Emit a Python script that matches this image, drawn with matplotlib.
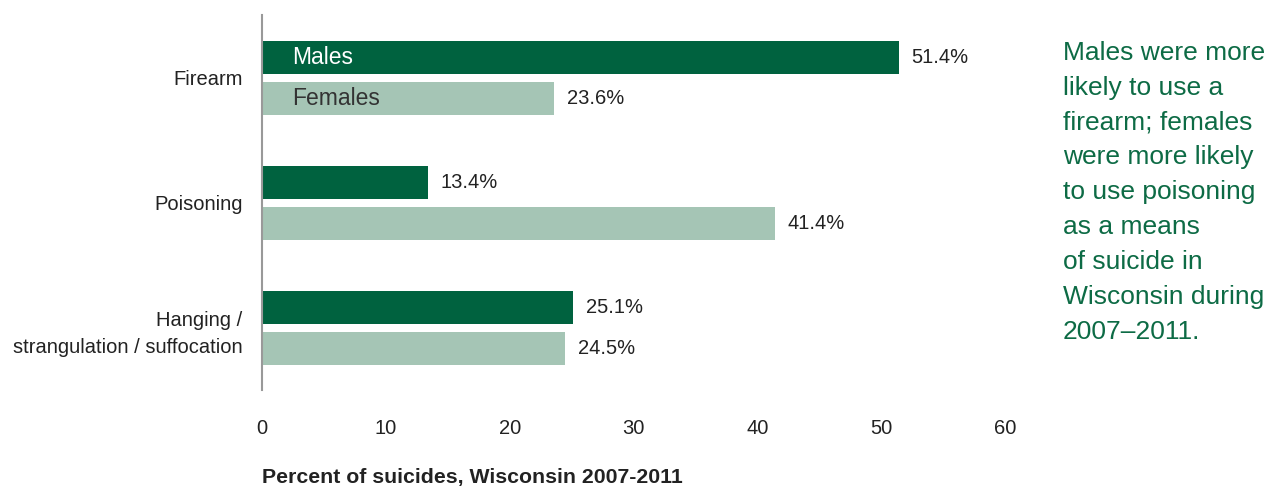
import numpy as np
import matplotlib.pyplot as plt

plt.rcParams['font.family'] = ['Liberation Sans', 'DejaVu Sans']

# Phương thức tự tử theo giới tính
categories = ['Firearm', 'Poisoning', 'Hanging /\nstrangulation / suffocation']
males = [51.4, 13.4, 25.1]
females = [23.6, 41.4, 24.5]
xticks = [0, 10, 20, 30, 40, 50, 60]

MALE_COLOR = '#00623f'
FEMALE_COLOR = '#a5c5b5'
TEXT_GREEN = '#0d6b45'

fig = plt.figure(figsize=(12.69, 4.87), dpi=100)
ax = fig.add_axes([0.2065, 0.199, 0.5855, 0.77])

y = np.arange(len(categories))
h = 0.264
off = 0.164
ax.barh(y - off, males, height=h, color=MALE_COLOR)
ax.barh(y + off, females, height=h, color=FEMALE_COLOR)

# Nhãn giá trị
for i in range(len(categories)):
    ax.text(males[i] + 1.05, y[i] - off, f'{males[i]}%', va='center', ha='left',
            fontsize=14.5, color='#222222')
    ax.text(females[i] + 1.05, y[i] + off, f'{females[i]}%', va='center', ha='left',
            fontsize=14.5, color='#222222')

# Chú thích bên trong thanh
ax.text(2.4, y[0] - off, 'Males', va='center', ha='left', fontsize=16.5, color='white')
ax.text(2.4, y[0] + off, 'Females', va='center', ha='left', fontsize=16.5, color='#333333')

ax.set_xlim(0, 60)
ax.set_ylim(2.5, -0.5)
ax.set_yticks(y)
ax.set_yticklabels(categories, fontsize=14.5, color='#222222', linespacing=1.55)
ax.set_xticks(xticks)
ax.set_xticklabels([str(t) for t in xticks], fontsize=14.5, color='#222222')
ax.tick_params(axis='y', length=0, pad=14)
ax.tick_params(axis='x', length=0, pad=21)

for s in ['top', 'right', 'bottom']:
    ax.spines[s].set_visible(False)
ax.spines['left'].set_color('#999999')
ax.spines['left'].set_linewidth(1.5)

fig.text(262 / 1269, 1 - 478 / 487, 'Percent of suicides, Wisconsin 2007-2011',
         fontsize=15.3, fontweight='bold', color='#222222', ha='left', va='center')

fig.text(1063 / 1269, 1 - 41 / 487,
         'Males were more\nlikely to use a\nfirearm; females\nwere more likely\n'
         'to use poisoning\nas a means\nof suicide in\nWisconsin during\n2007–2011.',
         fontsize=19, color=TEXT_GREEN, ha='left', va='top', linespacing=1.57)

fig.savefig('out.png', dpi=100)
